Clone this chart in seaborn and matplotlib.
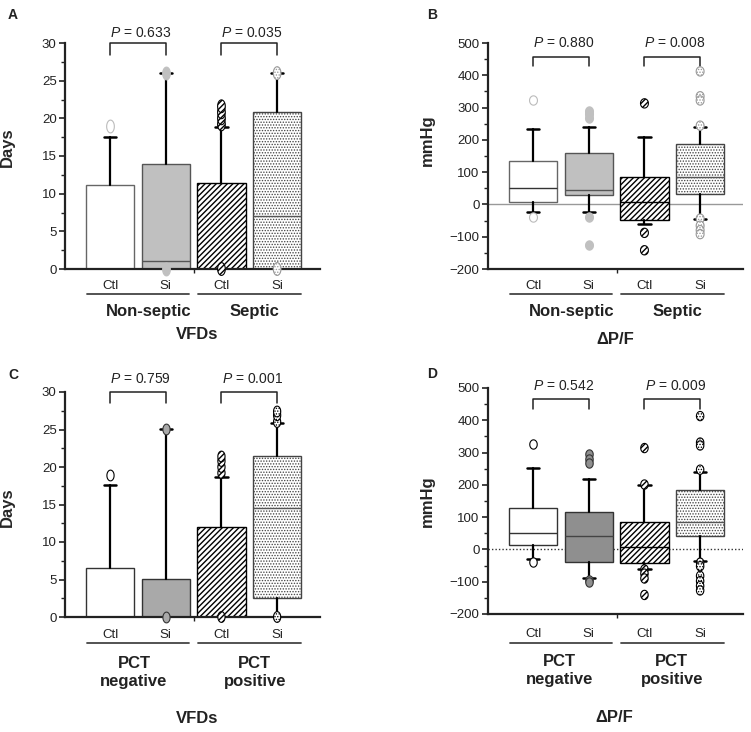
import numpy as np
import matplotlib
matplotlib.use("Agg")
import matplotlib.pyplot as plt
from matplotlib.ticker import MultipleLocator
import seaborn as sns

# box labels under each panel
box_labels = ["Ctl", "Si", "Ctl", "Si"]

# Panel A: VFDs, non-septic / septic (days)
a_q1 = [0, 0, 0, 0]
a_med = [0, 1.0, 0, 7.1]
a_q3 = [11.2, 14.0, 11.4, 20.9]
a_lo = [0, 0, 0, 0]
a_hi = [17.5, 26.0, 18.8, 26.0]
a_fliers = [[19.0], [26.0, 0], [19.2, 20.0, 20.8, 21.6, 0], [26.0, 0]]
a_pvals = ["0.633", "0.035"]

# Panel B: delta P/F, non-septic / septic (mmHg)
b_q1 = [6, 29, -48, 32]
b_med = [51, 45, 6, 85]
b_q3 = [133, 159, 84, 186]
b_lo = [-23, -23, -62, -44]
b_hi = [233, 240, 210, 240]
b_fliers = [[324, -39], [290, 279, 268, -40, -125], [313, -88, -142],
            [412, 335, 322, 244, -44, -66, -80, -92]]
b_pvals = ["0.880", "0.008"]

# Panel C: VFDs, PCT negative / positive (days)
c_q1 = [0, 0, 0, 2.5]
c_med = [0, 0, 0, 14.6]
c_q3 = [6.5, 5.1, 12.0, 21.5]
c_lo = [0, 0, 0, 0]
c_hi = [17.6, 25.1, 18.7, 25.9]
c_fliers = [[19.0], [25.1, 0], [19.2, 20.0, 20.8, 21.4, 0], [26.0, 26.9, 27.4, 0]]
c_pvals = ["0.759", "0.001"]

# Panel D: delta P/F, PCT negative / positive (mmHg)
d_q1 = [15, -39, -41, 43]
d_med = [51, 43, 8, 85]
d_q3 = [129, 117, 84, 185]
d_lo = [-31, -90, -62, -36]
d_hi = [252, 219, 200, 239]
d_fliers = [[326, -39], [296, 281, 267, -95, -102], [314, 201, -62, -75, -90, -141],
            [413, 331, 322, 247, -41, -52, -82, -98, -113, -127]]
d_pvals = ["0.542", "0.009"]

sns.set_style("ticks")
plt.rcParams["font.family"] = ["Liberation Sans", "DejaVu Sans"]
plt.rcParams["mathtext.fontset"] = "custom"
plt.rcParams["mathtext.it"] = "Liberation Sans:italic"
plt.rcParams["mathtext.rm"] = "Liberation Sans"
plt.rcParams["hatch.linewidth"] = 1.0
plt.rcParams["text.color"] = "#222222"
plt.rcParams["axes.edgecolor"] = "#222222"
plt.rcParams["xtick.color"] = "#222222"
plt.rcParams["ytick.color"] = "#222222"

W, H = 751, 732
fig = plt.figure(figsize=(W / 100, H / 100), dpi=100)


def px_axes(left, top, right, bottom):
    return fig.add_axes([left / W, 1 - bottom / H, (right - left) / W, (bottom - top) / H])


def ellipse_marker(aspect):
    t = np.linspace(0, 2 * np.pi, 41)
    return np.column_stack([aspect * np.cos(t), np.sin(t)])


def hatch_lw(artist, h):
    # thin dots for the stippled pattern, heavier strokes for the diagonal one
    lw = 0.65 if h and "." in h else 1.0
    try:
        artist.set_hatch_linewidth(lw)
    except AttributeError:
        pass


def draw_panel(ax, q1, med, q3, lo, hi, fliers, style, ylim, major, minor):
    stats = []
    for i in range(4):
        stats.append(dict(q1=q1[i], med=med[i], q3=q3[i], whislo=lo[i], whishi=hi[i],
                          fliers=[], label=box_labels[i]))
    pos = [0, 1, 2, 3]
    res = ax.bxp(stats, positions=pos, widths=0.87, patch_artist=True, showfliers=False,
                 capwidths=0.22, manage_ticks=False,
                 whiskerprops=dict(color="black", lw=1.6),
                 capprops=dict(color="black", lw=1.8))
    for i, box in enumerate(res["boxes"]):
        box.set_facecolor(style["face"][i])
        box.set_edgecolor(style["edge"][i])
        box.set_linewidth(1.0)
        if style["hatch"][i]:
            box.set_hatch(style["hatch"][i])
            hatch_lw(box, style["hatch"][i])
        res["medians"][i].set_color(style["med"][i])
        res["medians"][i].set_linewidth(1.0)
    mk = ellipse_marker(style["aspect"])
    for i in range(4):
        ys = fliers[i]
        sc = ax.scatter([pos[i]] * len(ys), ys, s=style["size"], marker=mk,
                        facecolor=style["fl_face"][i], edgecolor=style["fl_edge"][i],
                        linewidth=0.8, hatch=style["fl_hatch"][i], zorder=5, clip_on=False)
        if style["fl_hatch"][i]:
            hatch_lw(sc, style["fl_hatch"][i])
    ax.set_xlim(-0.81, 3.77)
    ax.set_ylim(*ylim)
    ax.yaxis.set_major_locator(MultipleLocator(major))
    ax.yaxis.set_minor_locator(MultipleLocator(minor))
    ax.set_xticks([1.5])
    ax.set_xticklabels([""])
    ax.tick_params(axis="y", which="major", length=4, width=1.2, labelsize=9.5, pad=2)
    ax.tick_params(axis="y", which="minor", length=3, width=1.0)
    ax.tick_params(axis="x", length=3, width=1.0)
    for sp in ["left", "bottom"]:
        ax.spines[sp].set_linewidth(1.6)
    sns.despine(ax=ax)


def annotate(ax, pvals, text_y, top_y, leg_y, label_y, line_y):
    tr = ax.get_xaxis_transform()
    for k, p in enumerate(pvals):
        x0, x1 = 2 * k, 2 * k + 1
        ax.plot([x0, x0, x1, x1], [leg_y, top_y, top_y, leg_y], color="#222222",
                lw=1.1, transform=tr, clip_on=False)
        ax.text(x0 + 0.55, text_y, "$P$ = " + p, transform=tr, ha="center", va="center",
                fontsize=10)
    for i, lab in enumerate(box_labels):
        ax.text(i, label_y, lab, transform=tr, ha="center", va="center", fontsize=9.5)
    for x0, x1 in [(-0.42, 1.42), (1.58, 3.42)]:
        ax.plot([x0, x1], [line_y, line_y], color="#444444", lw=1.3, transform=tr,
                clip_on=False)


top_style = dict(face=["white", "#c0c0c0", "white", "white"],
                 edge=["#666666", "#555555", "black", "#444444"],
                 hatch=[None, None, "//////", "......"],
                 med=["#333333", "#555555", "black", "#555555"],
                 fl_face=["white", "#c0c0c0", "white", "white"],
                 fl_edge=["#bbbbbb", "#c0c0c0", "black", "#999999"],
                 fl_hatch=[None, None, "//////", "......"],
                 aspect=0.6, size=85)

# ---- A ----
axA = px_axes(65, 43, 320, 269)
draw_panel(axA, a_q1, a_med, a_q3, a_lo, a_hi, a_fliers, top_style, (0, 30), 5, 2.5)
annotate(axA, a_pvals, 1.045, 1.0, 0.947, -0.075, -0.111)
trA = axA.get_xaxis_transform()
axA.text(0.7, -0.19, "Non-septic", transform=trA, ha="center", va="center",
         fontsize=12, fontweight="bold")
axA.text(2.6, -0.19, "Septic", transform=trA, ha="center", va="center",
         fontsize=12, fontweight="bold")
axA.text(1.57, -0.292, "VFDs", transform=trA, ha="center", va="center",
         fontsize=12, fontweight="bold")
axA.set_ylabel("Days", fontsize=12, fontweight="bold")
axA.yaxis.set_label_coords(-0.196, 0.54)

# ---- B ----
b_style = dict(top_style, aspect=0.85, size=45)
axB = px_axes(488, 43, 743, 269)
axB.axhline(0, color="#999999", lw=1.0, zorder=1.5)
draw_panel(axB, b_q1, b_med, b_q3, b_lo, b_hi, b_fliers, b_style, (-200, 500), 100, 50)
annotate(axB, b_pvals, 1.0, 0.94, 0.898, -0.075, -0.111)
trB = axB.get_xaxis_transform()
axB.text(0.7, -0.19, "Non-septic", transform=trB, ha="center", va="center",
         fontsize=12, fontweight="bold")
axB.text(2.6, -0.19, "Septic", transform=trB, ha="center", va="center",
         fontsize=12, fontweight="bold")
axB.text(1.48, -0.314, "ΔP/F", transform=trB, ha="center", va="center",
         fontsize=12, fontweight="bold")
axB.set_ylabel("mmHg", fontsize=12, fontweight="bold")
axB.yaxis.set_label_coords(-0.208, 0.57)

bottom_style = dict(face=["white", "#a9a9a9", "white", "white"],
                    edge=["#333333", "#333333", "black", "#444444"],
                    hatch=[None, None, "//////", "......"],
                    med=["#333333", "#444444", "black", "#555555"],
                    fl_face=["white", "#a9a9a9", "white", "white"],
                    fl_edge=["black", "#333333", "black", "black"],
                    fl_hatch=[None, None, "//////", "......"],
                    aspect=0.67, size=60)

# ---- C ----
axC = px_axes(65, 392, 320, 617)
draw_panel(axC, c_q1, c_med, c_q3, c_lo, c_hi, c_fliers, bottom_style, (0, 30), 5, 2.5)
annotate(axC, c_pvals, 1.058, 1.0, 0.952, -0.08, -0.116)
trC = axC.get_xaxis_transform()
axC.text(0.43, -0.245, "PCT\nnegative", transform=trC, ha="center", va="center",
         fontsize=12, fontweight="bold", linespacing=1.25)
axC.text(2.6, -0.245, "PCT\npositive", transform=trC, ha="center", va="center",
         fontsize=12, fontweight="bold", linespacing=1.25)
axC.text(1.56, -0.449, "VFDs", transform=trC, ha="center", va="center",
         fontsize=12, fontweight="bold")
axC.set_ylabel("Days", fontsize=12, fontweight="bold")
axC.yaxis.set_label_coords(-0.196, 0.49)

# ---- D ----
d_style = dict(bottom_style, face=["white", "#8f8f8f", "white", "white"],
               fl_face=["white", "#8f8f8f", "white", "white"], aspect=0.8, size=45)
axD = px_axes(488, 388, 743, 614)
axD.axhline(0, color="#333333", lw=1.0, ls=(0, (1, 1.5)), zorder=1.5)
draw_panel(axD, d_q1, d_med, d_q3, d_lo, d_hi, d_fliers, d_style, (-200, 500), 100, 50)
annotate(axD, d_pvals, 1.009, 0.951, 0.907, -0.088, -0.128)
trD = axD.get_xaxis_transform()
axD.text(0.48, -0.248, "PCT\nnegative", transform=trD, ha="center", va="center",
         fontsize=12, fontweight="bold", linespacing=1.25)
axD.text(2.49, -0.248, "PCT\npositive", transform=trD, ha="center", va="center",
         fontsize=12, fontweight="bold", linespacing=1.25)
axD.text(1.46, -0.46, "ΔP/F", transform=trD, ha="center", va="center",
         fontsize=12, fontweight="bold")
axD.set_ylabel("mmHg", fontsize=12, fontweight="bold")
axD.yaxis.set_label_coords(-0.208, 0.5)

# panel letters
for lab, x, y in [("A", 13, 15), ("B", 432, 15), ("C", 13, 375), ("D", 432, 374)]:
    fig.text(x / W, 1 - y / H, lab, ha="center", va="center", fontsize=10, fontweight="bold")

fig.savefig("out.png", dpi=100)
